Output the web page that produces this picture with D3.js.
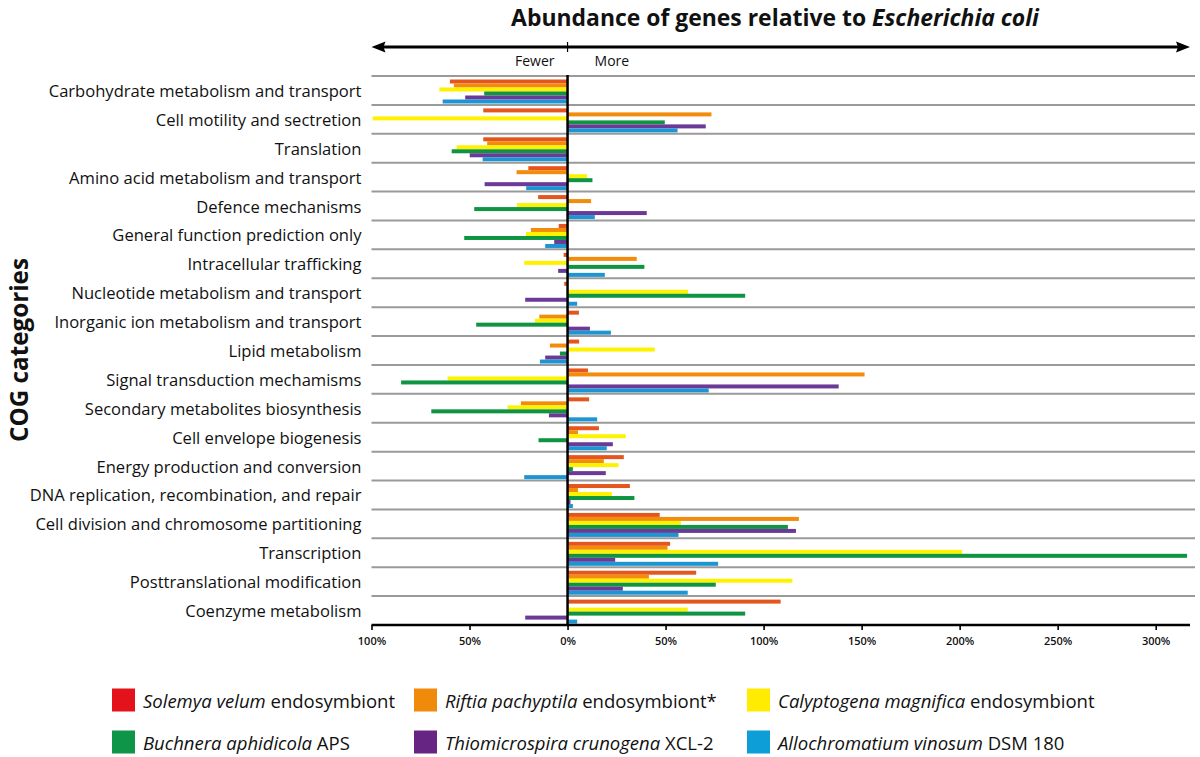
<!DOCTYPE html>
<html>
<head>
<meta charset="utf-8">
<script src="https://cdn.jsdelivr.net/npm/d3@7"></script>
<style>
  html, body { margin: 0; padding: 0; background: #fff; }
  svg { display: block; }
  text { font-family: "Open Sans", "Lato", sans-serif; fill: #111; }
</style>
</head>
<body>
<svg id="chart" width="1200" height="757"></svg>
<script>
// ---------------- DATA ----------------
const categories = [
  "Carbohydrate metabolism and transport",
  "Cell motility and sectretion",
  "Translation",
  "Amino acid metabolism and transport",
  "Defence mechanisms",
  "General function prediction only",
  "Intracellular trafficking",
  "Nucleotide metabolism and transport",
  "Inorganic ion metabolism and transport",
  "Lipid metabolism",
  "Signal transduction mechamisms",
  "Secondary metabolites biosynthesis",
  "Cell envelope biogenesis",
  "Energy production and conversion",
  "DNA replication, recombination, and repair",
  "Cell division and chromosome partitioning",
  "Transcription",
  "Posttranslational modification",
  "Coenzyme metabolism"
];

const seriesNames = ["Solemya", "Riftia", "Calyptogena", "Buchnera", "Thiomicrospira", "Allochromatium"];

const solemya        = [-60, -43, -43, -20, -15, -4.5, -2, -1.7, 5.8, 5.9, 10.4, 11, 16, 28.7, 31.8, 47, 52.3, 65.6, 108.7];
const riftia         = [-58, 73.4, -41, -26, 12, -18.7, 35.3, 0, -14.4, -9, 151.5, -23.8, 5.3, 18.5, 5.3, 118, 51, 41.5, 0];
const calyptogena    = [-65.4, -99.4, -56.6, 9.9, -25.8, -21.2, -22.1, 61.5, -16.6, 44.5, -61.2, -30.6, 29.7, 26, 22.6, 57.8, 201.3, 114.7, 61.3];
const buchnera       = [-42.5, 49.6, -59.1, 12.7, -47.6, -52.7, 39.2, 90.6, -46.6, -3.9, -84.9, -69.5, -14.8, 2.7, 34.1, 112.4, 316, 75.6, 90.6];
const thiomicrospira = [-52.2, 70.5, -49.9, -42.3, 40.4, -6.8, -4.8, -21.6, 11.4, -11.4, 138.3, -9.5, 23.1, 19.5, 1.5, 116.5, 24.3, 28.2, -21.6];
const allochromatium = [-63.7, 56.1, -43.3, -21.1, 13.9, -11.4, 19, 4.9, 22.1, -14.1, 72, 15.1, 20, -22.1, 2.7, 56.6, 76.8, 61.3, 4.9];

const seriesValues = [solemya, riftia, calyptogena, buchnera, thiomicrospira, allochromatium];

const barColors    = ["#E5561E", "#F28C0A", "#FFF200", "#0F9442", "#6A3A96", "#1C95D2"];
const legendColors = ["#E3121B", "#F08A0A", "#FFEC00", "#0E9547", "#662483", "#0D9ED8"];

const legendItalic = ["Solemya velum", "Riftia pachyptila", "Calyptogena magnifica",
                      "Buchnera aphidicola", "Thiomicrospira crunogena", "Allochromatium vinosum"];
const legendRest   = [" endosymbiont", " endosymbiont*", " endosymbiont",
                      " APS", "  XCL-2", " DSM 180"];

const tickValues = [-100, -50, 0, 50, 100, 150, 200, 250, 300];
const xDomain = [-100, 317.5];

const titleMain = "Abundance of genes relative to ";
const titleItalic = "Escherichia coli";
const yTitle = "COG categories";

// ---------------- LAYOUT ----------------
const svg = d3.select("#chart");
const plotLeft = 371.5, plotRight = 1190, plotTop = 76, plotBottom = 625;

const x = d3.scaleLinear().domain(xDomain).range([plotLeft, plotRight]);
const y = d3.scaleBand().domain(categories).range([plotTop, plotBottom]).padding(0);
const inner = d3.scaleBand().domain(d3.range(seriesNames.length)).range([3.5, y.bandwidth() - 1.4]).padding(0);

function fitFont(sel, target) {
  const w = sel.node().getComputedTextLength();
  const fs = parseFloat(sel.attr("font-size"));
  sel.attr("font-size", (fs * target / w).toFixed(2));
}

// gridlines (category separators)
svg.append("g").selectAll("line")
  .data(categories)
  .join("line")
  .attr("x1", plotLeft).attr("x2", plotRight + 5)
  .attr("y1", d => y(d)).attr("y2", d => y(d))
  .attr("stroke", "#9a9a9a").attr("stroke-width", 2);

// bars
const rows = categories.map((c, i) => seriesValues.map((arr, s) => ({c, s, v: arr[i]})));
svg.append("g").selectAll("g")
  .data(rows)
  .join("g")
  .attr("transform", d => `translate(0,${y(d[0].c)})`)
  .selectAll("rect")
  .data(d => d.filter(e => e.v !== 0))
  .join("rect")
  .attr("x", d => Math.min(x(0), x(d.v)))
  .attr("width", d => Math.abs(x(d.v) - x(0)))
  .attr("y", d => inner(d.s))
  .attr("height", inner.bandwidth())
  .attr("fill", d => barColors[d.s]);

// zero line
svg.append("line")
  .attr("x1", x(0)).attr("x2", x(0))
  .attr("y1", plotTop - 1).attr("y2", plotBottom)
  .attr("stroke", "#000").attr("stroke-width", 2.5);

// x axis
const xAxis = d3.axisBottom(x)
  .tickValues(tickValues)
  .tickFormat(d => Math.abs(d) + "%")
  .tickSize(5)
  .tickSizeOuter(0);
const gx = svg.append("g").attr("transform", `translate(0,${plotBottom})`).call(xAxis);
gx.select(".domain").attr("stroke", "#000").attr("stroke-width", 2.5)
  .attr("d", `M${plotLeft},0H${plotRight}`);
gx.selectAll(".tick line").attr("stroke", "#000").attr("stroke-width", 1.6);
gx.selectAll(".tick text")
  .attr("font-family", "'Open Sans', sans-serif")
  .attr("font-size", 11).attr("font-weight", 600).attr("dy", "1.05em").attr("fill", "#111");

// category labels
const labelG = svg.append("g");
labelG.selectAll("text")
  .data(categories)
  .join("text")
  .attr("x", 361.5)
  .attr("y", d => y(d) + y.bandwidth() / 2)
  .attr("text-anchor", "end")
  .attr("dominant-baseline", "central")
  .attr("font-size", 15)
  .text(d => d);
{
  const w = labelG.select("text").node().getComputedTextLength();
  labelG.selectAll("text").attr("font-size", (15 * 313 / w).toFixed(2));
}

// top arrow
const arrowY = 47;
svg.append("line")
  .attr("x1", plotLeft + 10).attr("x2", plotRight - 10)
  .attr("y1", arrowY).attr("y2", arrowY)
  .attr("stroke", "#000").attr("stroke-width", 2.8);
svg.append("path")
  .attr("d", `M${plotLeft},${arrowY} l14,-5.5 l-2,5.5 l2,5.5 z`)
  .attr("fill", "#000");
svg.append("path")
  .attr("d", `M${plotRight},${arrowY} l-14,-5.5 l2,5.5 l-2,5.5 z`)
  .attr("fill", "#000");
svg.append("line")
  .attr("x1", x(0)).attr("x2", x(0))
  .attr("y1", arrowY - 5).attr("y2", arrowY + 5)
  .attr("stroke", "#000").attr("stroke-width", 1.2);
svg.append("text").attr("x", x(0) - 13).attr("y", 66)
  .attr("text-anchor", "end").attr("font-size", 14).text("Fewer");
svg.append("text").attr("x", x(0) + 27).attr("y", 66)
  .attr("text-anchor", "start").attr("font-size", 14).text("More");

// title
const title = svg.append("text")
  .attr("x", 775).attr("y", 26)
  .attr("text-anchor", "middle")
  .attr("font-size", 22).attr("font-weight", 700);
title.append("tspan").text(titleMain);
title.append("tspan").attr("font-style", "italic").text(titleItalic);
fitFont(title, 528);

// y title
const yt = svg.append("text")
  .attr("transform", "translate(28,350) rotate(-90)")
  .attr("text-anchor", "middle")
  .attr("font-size", 21).attr("font-weight", 700)
  .text(yTitle);
fitFont(yt, 184);

// legend
const legCols = [112, 414, 747];
const legRows = [700, 742];
const leg = svg.append("g").selectAll("g")
  .data(seriesNames)
  .join("g")
  .attr("transform", (d, i) => `translate(${legCols[i % 3]},${legRows[Math.floor(i / 3)]})`);
leg.append("rect")
  .attr("x", 0).attr("y", -11.5).attr("width", 23).attr("height", 23)
  .attr("fill", (d, i) => legendColors[i]);
const lt = leg.append("text")
  .attr("x", 31).attr("y", 0)
  .attr("dominant-baseline", "central")
  .attr("font-size", 18);
lt.append("tspan").attr("font-style", "italic").text((d, i) => legendItalic[i]);
lt.append("tspan").text((d, i) => legendRest[i]);
{
  const w = lt.nodes()[0].getComputedTextLength();
  lt.attr("font-size", (18 * 252 / w).toFixed(2));
}
</script>
</body>
</html>
